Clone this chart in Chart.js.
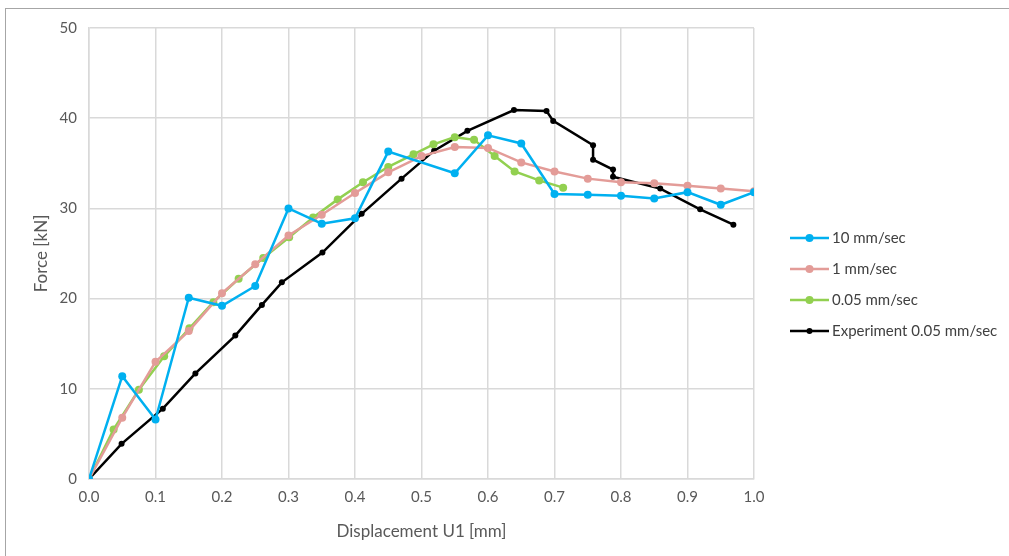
<!DOCTYPE html>
<html>
<head>
<meta charset="utf-8">
<script src="https://cdn.jsdelivr.net/npm/chart.js@4"></script>
<style>
  html, body { margin: 0; padding: 0; background: #fff; }
  #wrap { position: relative; width: 1009px; height: 556px; }
  #frame { position: absolute; left: 5px; top: 8px; right: -2px; bottom: -2px;
           border-left: 1px solid #a6a6a6; border-top: 1px solid #a6a6a6; }
  canvas { position: absolute; left: 0; top: 0; }
</style>
</head>
<body>
<div id="wrap">
  <div id="frame"></div>
  <canvas id="chart" width="1009" height="556"></canvas>
</div>
<script>
// Force vs displacement for each loading rate
const seriesNames = ['10 mm/sec', '1 mm/sec', '0.05 mm/sec', 'Experiment 0.05 mm/sec'];

const rate10X = [0, 0.05, 0.10, 0.15, 0.20, 0.25, 0.30, 0.35, 0.40, 0.45, 0.55, 0.60, 0.65, 0.70, 0.75, 0.80, 0.85, 0.90, 0.95, 1.00];
const rate10Y = [0, 11.4, 6.6, 20.1, 19.2, 21.4, 30.0, 28.3, 28.9, 36.3, 33.9, 38.1, 37.2, 31.6, 31.5, 31.4, 31.1, 31.8, 30.4, 31.8];

const rate1X = [0, 0.05, 0.10, 0.15, 0.20, 0.25, 0.30, 0.35, 0.40, 0.45, 0.50, 0.55, 0.60, 0.65, 0.70, 0.75, 0.80, 0.85, 0.90, 0.95, 1.00];
const rate1Y = [0, 6.8, 13.0, 16.4, 20.6, 23.8, 27.0, 29.3, 31.7, 34.0, 35.8, 36.8, 36.7, 35.1, 34.1, 33.3, 32.9, 32.8, 32.5, 32.2, 31.9];

const rate005X = [0, 0.037, 0.075, 0.113, 0.151, 0.187, 0.225, 0.262, 0.301, 0.337, 0.374, 0.412, 0.450, 0.488, 0.518, 0.550, 0.579, 0.610, 0.640, 0.677, 0.713];
const rate005Y = [0, 5.5, 9.9, 13.6, 16.7, 19.6, 22.2, 24.5, 26.8, 29.0, 31.0, 32.9, 34.6, 36.0, 37.1, 37.9, 37.6, 35.8, 34.1, 33.1, 32.3];

const expX = [0, 0.049, 0.111, 0.160, 0.220, 0.260, 0.290, 0.351, 0.410, 0.470, 0.519, 0.569, 0.639, 0.688, 0.698, 0.758, 0.758, 0.788, 0.788, 0.859, 0.919, 0.969];
const expY = [0, 3.9, 7.8, 11.7, 15.9, 19.3, 21.8, 25.1, 29.4, 33.3, 36.4, 38.6, 40.9, 40.8, 39.7, 37.0, 35.4, 34.3, 33.5, 32.2, 29.9, 28.2];

const xTicks = [0, 0.1, 0.2, 0.3, 0.4, 0.5, 0.6, 0.7, 0.8, 0.9, 1.0];
const yTicks = [0, 10, 20, 30, 40, 50];

const colors = ['#00b0f0', '#e39c98', '#92d050', '#000000'];
const radii = [4, 4, 4, 3];

function pairs(xs, ys) {
  return xs.map((x, i) => ({ x: x, y: ys[i] }));
}

const allX = [rate10X, rate1X, rate005X, expX];
const allY = [rate10Y, rate1Y, rate005Y, expY];

const datasets = seriesNames.map((name, i) => ({
  label: name,
  data: pairs(allX[i], allY[i]),
  showLine: true,
  borderColor: colors[i],
  backgroundColor: colors[i],
  borderWidth: 2.5,
  pointRadius: radii[i],
  pointHoverRadius: radii[i],
  pointBorderWidth: 0,
  tension: 0
}));

const FONT = 'Lato, "Noto Sans", sans-serif';

// legend on the right: short line with a dot, then the label
const sideLegend = {
  id: 'sideLegend',
  afterDraw(chart) {
    const ctx = chart.ctx;
    ctx.save();
    ctx.font = '15px ' + FONT;
    ctx.textBaseline = 'middle';
    chart.data.datasets.forEach((ds, i) => {
      const y = 238 + i * 31;
      ctx.strokeStyle = ds.borderColor;
      ctx.lineWidth = 2.5;
      ctx.beginPath();
      ctx.moveTo(790, y);
      ctx.lineTo(829, y);
      ctx.stroke();
      ctx.fillStyle = ds.borderColor;
      ctx.beginPath();
      ctx.arc(809.5, y, ds.pointRadius, 0, Math.PI * 2);
      ctx.fill();
      ctx.fillStyle = '#404040';
      ctx.fillText(ds.label, 832, y);
    });
    ctx.restore();
  }
};

new Chart(document.getElementById('chart'), {
  type: 'scatter',
  data: { datasets: datasets },
  options: {
    responsive: false,
    animation: false,
    layout: { padding: { left: 31, right: 255, top: 28, bottom: 14 } },
    plugins: {
      legend: { display: false },
      tooltip: { enabled: false }
    },
    scales: {
      x: {
        type: 'linear',
        min: 0,
        max: 1,
        afterBuildTicks: axis => { axis.ticks = xTicks.map(v => ({ value: v })); },
        afterFit: axis => { axis.height = 63; },
        ticks: {
          color: '#595959',
          font: { family: FONT, size: 15 },
          padding: 9,
          maxRotation: 0,
          callback: v => v.toFixed(1)
        },
        grid: { color: '#d9d9d9', lineWidth: 1.5, drawTicks: false },
        border: { color: '#d9d9d9', width: 1.5 },
        title: {
          display: true,
          text: 'Displacement U1 [mm]',
          color: '#595959',
          font: { family: FONT, size: 17 },
          padding: 0
        }
      },
      y: {
        type: 'linear',
        min: 0,
        max: 50,
        afterBuildTicks: axis => { axis.ticks = yTicks.map(v => ({ value: v })); },
        afterFit: axis => { axis.width = 58; },
        ticks: {
          color: '#595959',
          font: { family: FONT, size: 15 },
          padding: 12
        },
        grid: { color: '#d9d9d9', lineWidth: 1.5, drawTicks: false },
        border: { color: '#d9d9d9', width: 1.5 },
        title: {
          display: true,
          text: 'Force [kN]',
          color: '#595959',
          font: { family: FONT, size: 17 },
          padding: 0
        }
      }
    }
  },
  plugins: [sideLegend]
});
</script>
</body>
</html>
